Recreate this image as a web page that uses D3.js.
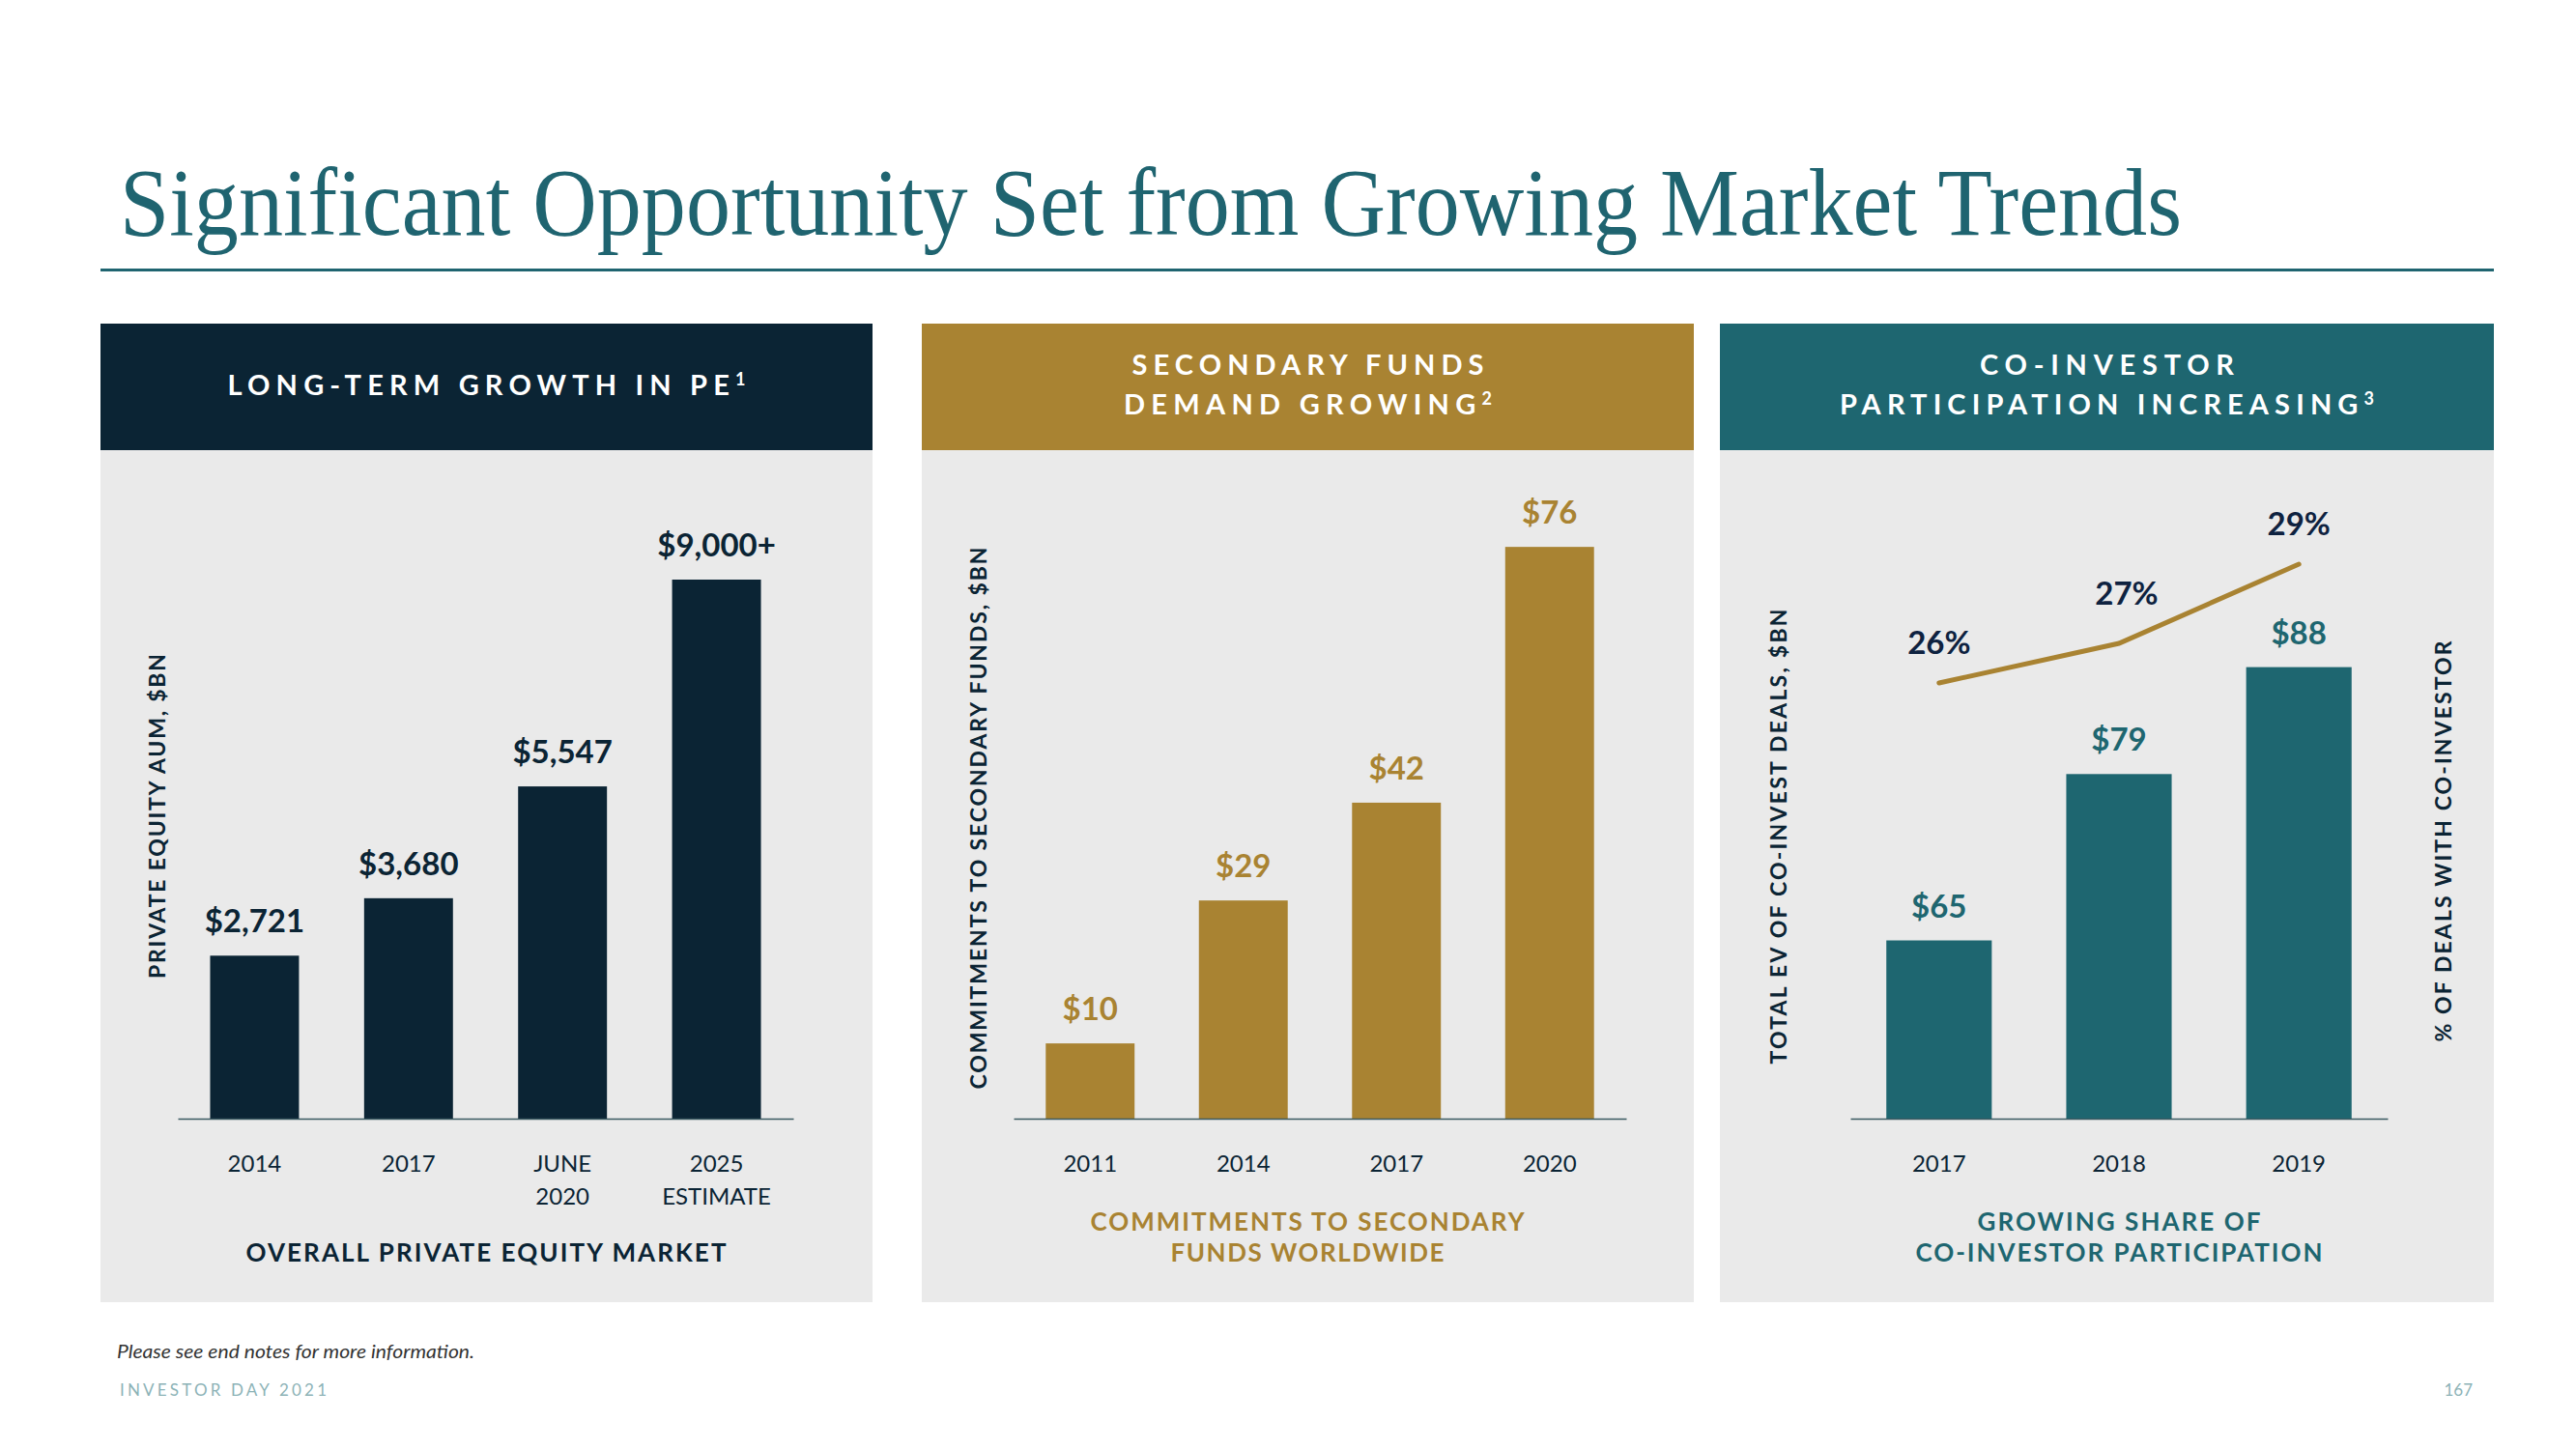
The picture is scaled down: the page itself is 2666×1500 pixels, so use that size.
<!DOCTYPE html>
<html>
<head>
<meta charset="utf-8">
<script src="https://cdnjs.cloudflare.com/ajax/libs/d3/7.8.5/d3.min.js"></script>
<style>
  html, body { margin: 0; padding: 0; background: #ffffff; }
  svg { display: block; }
</style>
</head>
<body>
<script>
// ---------------- DATA ----------------
const peCategories = ["2014", "2017", "JUNE|2020", "2025|ESTIMATE"];
const peValues = [2721, 3680, 5547, 9000];
const peLabels = ["$2,721", "$3,680", "$5,547", "$9,000+"];

const secCategories = ["2011", "2014", "2017", "2020"];
const secValues = [10, 29, 42, 76];
const secLabels = ["$10", "$29", "$42", "$76"];

const coCategories = ["2017", "2018", "2019"];
const coValues = [65, 79, 88];
const coLabels = ["$65", "$79", "$88"];
const coShare = [26, 27, 29];
const coShareLabels = ["26%", "27%", "29%"];

// ---------------- STYLE ----------------
const W = 2666, H = 1500;
const NAVY = "#0b2434", GOLD = "#a98332", TEAL = "#1e6670", GREY = "#eaeaea";
const SANS = "Lato, 'Open Sans', sans-serif";

const svg = d3.select("body").append("svg").attr("width", W).attr("height", H);
svg.append("rect").attr("width", W).attr("height", H).attr("fill", "#fff");

// Title
svg.append("text")
  .attr("x", 124).attr("y", 243)
  .attr("font-family", "'Liberation Serif', 'DejaVu Serif', serif")
  .attr("font-size", 100)
  .attr("fill", "#1f6470")
  .attr("textLength", 2134).attr("lengthAdjust", "spacingAndGlyphs")
  .text("Significant Opportunity Set from Growing Market Trends");
svg.append("rect").attr("x", 104).attr("y", 278).attr("width", 2477).attr("height", 3).attr("fill", "#1f6470");

// Panels
const panels = [
  {x0: 104, x1: 903, color: NAVY,
   header: [["LONG-TERM GROWTH IN PE", "1", 536]], headerY: [409]},
  {x0: 954, x1: 1753, color: GOLD,
   header: [["SECONDARY FUNDS", "", 364], ["DEMAND GROWING", "2", 381]], headerY: [388, 429]},
  {x0: 1780, x1: 2581, color: TEAL,
   header: [["CO-INVESTOR", "", 263], ["PARTICIPATION INCREASING", "3", 553]], headerY: [388, 429]}
];
const HEAD_TOP = 335, HEAD_BOT = 466, BODY_BOT = 1348;

panels.forEach(p => {
  svg.append("rect").attr("x", p.x0).attr("y", HEAD_BOT).attr("width", p.x1 - p.x0).attr("height", BODY_BOT - HEAD_BOT).attr("fill", GREY);
  svg.append("rect").attr("x", p.x0).attr("y", HEAD_TOP).attr("width", p.x1 - p.x0).attr("height", HEAD_BOT - HEAD_TOP).attr("fill", p.color);
  const cx = (p.x0 + p.x1) / 2;
  p.header.forEach((h, i) => {
    const t = svg.append("text")
      .attr("x", cx).attr("y", p.headerY[i])
      .attr("text-anchor", "middle")
      .attr("font-family", SANS).attr("font-weight", 700).attr("font-size", 29)
      .attr("fill", "#fff")
      .attr("textLength", h[2]).attr("lengthAdjust", "spacing");
    t.append("tspan").text(h[0]);
    if (h[1]) t.append("tspan").attr("font-size", 18).attr("dy", -10).text(h[1]);
  });
});

const BASE = 1158;

function rotatedTitle(x, yc, text, len, color) {
  svg.append("text")
    .attr("transform", `translate(${x},${yc}) rotate(-90)`)
    .attr("text-anchor", "middle").attr("dominant-baseline", "central")
    .attr("font-family", SANS).attr("font-weight", 700).attr("font-size", 23)
    .attr("fill", color)
    .attr("textLength", len).attr("lengthAdjust", "spacing")
    .text(text);
}

function footer(cx, ys, lines, lens, color) {
  lines.forEach((l, i) => {
    svg.append("text")
      .attr("x", cx).attr("y", ys[i]).attr("text-anchor", "middle")
      .attr("font-family", SANS).attr("font-weight", 700).attr("font-size", 26)
      .attr("fill", color)
      .attr("textLength", lens[i]).attr("lengthAdjust", "spacing")
      .text(l);
  });
}

function barChart(cfg) {
  const x = d3.scaleBand().domain(cfg.cats).range(cfg.xr).paddingInner(cfg.pi).paddingOuter(cfg.po);
  const y = d3.scaleLinear().domain(cfg.yd).range([BASE, cfg.ytop]);
  const g = svg.append("g");
  g.selectAll("rect.bar").data(cfg.vals).join("rect")
    .attr("class", "bar")
    .attr("x", (d, i) => x(cfg.cats[i]))
    .attr("width", x.bandwidth())
    .attr("y", d => y(d))
    .attr("height", d => BASE - y(d))
    .attr("fill", cfg.color);
  g.selectAll("text.val").data(cfg.vals).join("text")
    .attr("class", "val")
    .attr("x", (d, i) => x(cfg.cats[i]) + x.bandwidth() / 2)
    .attr("y", d => y(d) - 24)
    .attr("text-anchor", "middle")
    .attr("font-family", SANS).attr("font-weight", 700).attr("font-size", 33)
    .attr("fill", cfg.labelColor)
    .text((d, i) => cfg.labels[i]);
  // axis
  const ax = svg.append("g").attr("transform", `translate(0,${BASE})`)
    .call(d3.axisBottom(x).tickSize(0).tickSizeOuter(0).tickPadding(38));
  ax.select(".domain").attr("stroke", "#3b5a62").attr("stroke-width", 1.6);
  ax.selectAll(".tick text").each(function(d) {
    const t = d3.select(this);
    const parts = d.split("|");
    t.text(null)
      .attr("font-family", SANS).attr("font-size", 24).attr("fill", NAVY);
    parts.forEach((s, i) => {
      t.append("tspan").attr("x", 0).attr("dy", i === 0 ? "0.71em" : 34).text(s);
    });
  });
  return {x, y};
}

// Panel 1
barChart({cats: peCategories, vals: peValues, labels: peLabels, xr: [184, 821], pi: 0.423, po: 0.21,
  yd: [0, 10000], ytop: 538, color: NAVY, labelColor: NAVY});
rotatedTitle(162, 845, "PRIVATE EQUITY AUM, $BN", 336, NAVY);
footer(503, [1306], ["OVERALL PRIVATE EQUITY MARKET"], [497], NAVY);

// Panel 2
barChart({cats: secCategories, vals: secValues, labels: secLabels, xr: [1049, 1683], pi: 0.42, po: 0.21,
  yd: [0, 80], ytop: 535, color: GOLD, labelColor: GOLD});
rotatedTitle(1012, 847, "COMMITMENTS TO SECONDARY FUNDS, $BN", 561, NAVY);
footer(1353, [1274, 1306], ["COMMITMENTS TO SECONDARY", "FUNDS WORLDWIDE"], [449, 283], GOLD);

// Panel 3
const p3 = barChart({cats: coCategories, vals: coValues, labels: coLabels, xr: [1915, 2471], pi: 0.414, po: 0.2,
  yd: [50, 100], ytop: 543, color: TEAL, labelColor: TEAL});
const y2 = d3.scaleLinear().domain([15, 30]).range([BASE, 543]);
const line = d3.line()
  .x((d, i) => p3.x(coCategories[i]) + p3.x.bandwidth() / 2)
  .y(d => y2(d));
svg.append("path").datum(coShare).attr("d", line)
  .attr("fill", "none").attr("stroke", GOLD).attr("stroke-width", 5).attr("stroke-linecap", "round");
svg.selectAll("text.pct").data(coShare).join("text")
  .attr("class", "pct")
  .attr("x", (d, i) => p3.x(coCategories[i]) + p3.x.bandwidth() / 2 + (i === 1 ? 8 : 0))
  .attr("y", (d, i) => y2(d) - (i === 1 ? 40 : 30))
  .attr("text-anchor", "middle")
  .attr("font-family", SANS).attr("font-weight", 700).attr("font-size", 33)
  .attr("fill", "#0e2240")
  .text((d, i) => coShareLabels[i]);
rotatedTitle(1840, 866, "TOTAL EV OF CO-INVEST DEALS, $BN", 471, NAVY);
rotatedTitle(2528, 871, "% OF DEALS WITH CO-INVESTOR", 415, NAVY);
footer(2193, [1274, 1306], ["GROWING SHARE OF", "CO-INVESTOR PARTICIPATION"], [293, 421], TEAL);

// Footnotes
svg.append("text").attr("x", 121).attr("y", 1406)
  .attr("font-family", SANS).attr("font-style", "italic").attr("font-size", 19)
  .attr("fill", "#333").attr("textLength", 370).attr("lengthAdjust", "spacingAndGlyphs")
  .text("Please see end notes for more information.");
svg.append("text").attr("x", 124).attr("y", 1445)
  .attr("font-family", SANS).attr("font-size", 17).attr("fill", "#8db3b7")
  .attr("textLength", 214).attr("lengthAdjust", "spacing")
  .text("INVESTOR DAY 2021");
svg.append("text").attr("x", 2559).attr("y", 1445).attr("text-anchor", "end")
  .attr("font-family", SANS).attr("font-size", 17).attr("fill", "#8db3b7")
  .text("167");
</script>
</body>
</html>
